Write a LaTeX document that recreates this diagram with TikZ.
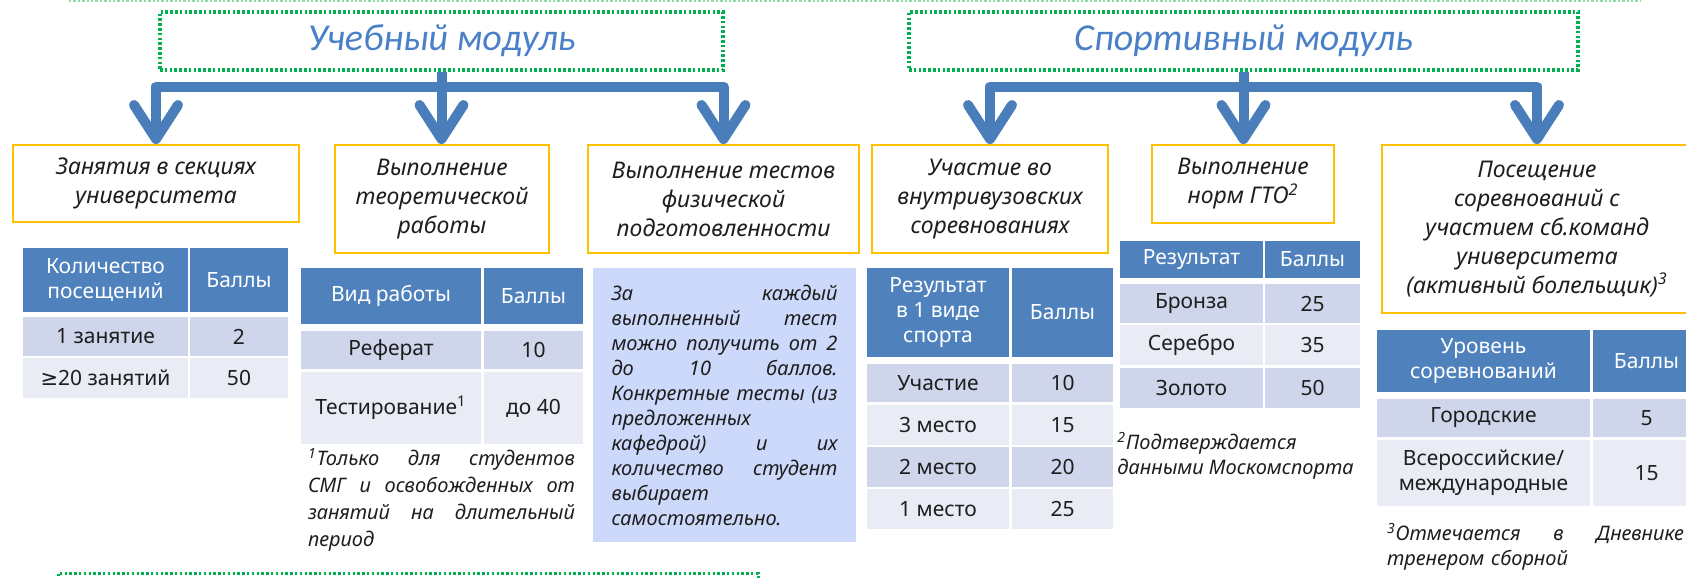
\documentclass[tikz,border=0pt]{standalone}
\usepackage{fontspec}
\setmainfont{Noto Sans}
\newfontfamily\headfont{Carlito}
\newfontfamily\symfont{DejaVu Sans}
\usetikzlibrary{arrows.meta}
\setlength\parindent{0pt}

\definecolor{headblue}{RGB}{79,129,189}
\definecolor{rowdark}{RGB}{207,213,234}
\definecolor{rowlight}{RGB}{233,235,245}
\definecolor{boxyellow}{RGB}{255,192,0}
\definecolor{arrowblue}{RGB}{74,126,187}
\definecolor{modblue}{RGB}{74,128,200}
\definecolor{dotgreen}{RGB}{0,176,80}
\definecolor{palegreen}{RGB}{146,220,170}
\definecolor{notefill}{RGB}{204,217,250}
\definecolor{ink}{RGB}{30,30,30}

\begin{document}
\begin{tikzpicture}[x=0.5pt, y=-0.5pt,
    modbox/.style={draw=dotgreen, line width=1.6pt, dash pattern=on 1.3pt off 1.1pt,
        minimum height=29pt, text=modblue, font=\headfont\itshape\fontsize{19}{23}\selectfont},
    itembox/.style={draw=boxyellow, line width=1pt, inner sep=0pt, align=center, text=ink,
        font=\itshape\fontsize{11.5}{14.5}\selectfont},
    flow/.style={draw=arrowblue, line width=5pt, line join=round,
        -{Straight Barb[length=17pt, width=22pt, round]}},
    cell/.style={inner sep=0pt, align=center, font=\fontsize{10.5}{12.5}\selectfont},
    head/.style={cell, fill=headblue, text=white},
    rowa/.style={cell, fill=rowdark, text=ink},
    rowb/.style={cell, fill=rowlight, text=ink},
    note/.style={inner sep=0pt, align=left, text=ink, font=\itshape\fontsize{10}{13.5}\selectfont}]
    \useasboundingbox (0,0) rectangle (1686,578);

    % dotted frames cut by the edges
    \draw[palegreen, line width=0.8pt, dash pattern=on 1.2pt off 1pt] (69,1) -- (1641,1);
    \draw[dotgreen, line width=1.5pt, dash pattern=on 1.2pt off 1.2pt] (58,600) -- (58,573) -- (758,573) -- (758,600);

    % modules
    \node[modbox, minimum width=281.5pt] (ucheb) at (441.5,41) {Учебный модуль};
    \node[modbox, minimum width=334.5pt] (sport) at (1243.5,41) {Спортивный модуль};

    % items
    \node[itembox, minimum width=143pt, minimum height=38.5pt] (zan) at (156,183.5) {Занятия в секциях\\университета};
    \node[itembox, minimum width=107pt, minimum height=54pt] (teor) at (442,199) {Выполнение\\теоретической\\работы};
    \node[itembox, minimum width=135.5pt, minimum height=54pt] (fiz) at (723.5,199) {Выполнение тестов\\физической\\подготовленности};
    \node[itembox, minimum width=118pt, minimum height=54pt] (vnut) at (990,199) {Участие во\\внутривузовских\\соревнованиях};
    \node[itembox, minimum width=91pt, minimum height=39pt] (gto) at (1243,184) {Выполнение\\норм ГТО\textsuperscript{2}};
    \node[itembox, minimum width=155pt, minimum height=84pt] (bolel) at (1537,229) {Посещение\\соревнований с\\участием сб.команд\\университета\\(активный болельщик)\textsuperscript{3}};

    % arrows
    \coordinate (ubar) at ([yshift=-7.5pt]ucheb.south);
    \coordinate (sbar) at ([yshift=-7.5pt]sport.south);
    \draw[flow] (ucheb.south) -- (ubar) -| (zan.north);
    \draw[flow] (ucheb.south) -- (ucheb.south |- teor.north);
    \draw[flow] (ucheb.south) -- (ubar) -| (fiz.north);
    \draw[flow] (sport.south) -- (sbar) -| (vnut.north);
    \draw[flow] (sport.south) -- (sport.south |- gto.north);
    \draw[flow] (sport.south) -- (sbar) -| (bolel.north);

    % sections
    \node[head, minimum width=82.5pt, minimum height=32pt] (sekh1) at (105.5,280) {Количество\\посещений};
    \node[head, minimum width=49pt, minimum height=32pt] (sekh2) at (239,280) {Баллы};
    \node[rowa, minimum width=82.5pt, minimum height=19.5pt] (seka1) at (105.5,336.5) {1 занятие};
    \node[rowa, minimum width=49pt, minimum height=19.5pt] (seka2) at (239,336.5) {2};
    \node[rowb, minimum width=82.5pt, minimum height=20pt] (sekb1) at (105.5,378) {{\symfont ≥}20 занятий};
    \node[rowb, minimum width=49pt, minimum height=20pt] (sekb2) at (239,378) {50};

    % theory
    \node[head, minimum width=90pt, minimum height=28pt] (teoh1) at (391,296) {Вид работы};
    \node[head, minimum width=49.5pt, minimum height=28pt] (teoh2) at (533.5,296) {Баллы};
    \node[rowa, minimum width=90pt, minimum height=19pt] (teoa1) at (391,350) {Реферат};
    \node[rowa, minimum width=49.5pt, minimum height=19pt] (teoa2) at (533.5,350) {10};
    \node[rowb, minimum width=90pt, minimum height=36pt] (teob1) at (391,408) {Тестирование\textsuperscript{1}};
    \node[rowb, minimum width=49.5pt, minimum height=36pt] (teob2) at (533.5,408) {до 40};
    \node[note, text width=133.5pt] (fn1) at (441.5,500) {\textsuperscript{1}Только\hfill для\hfill студентов\\
        СМГ\hfill и\hfill освобожденных\hfill от\\
        занятий\hfill на\hfill длительный\\
        период};

    % tests
    \node[note, fill=notefill, minimum width=131.5pt, minimum height=137pt, text width=113pt,
        font=\itshape\fontsize{10}{12.5}\selectfont] (tst) at (724.5,405) {За\hfill каждый\\
        выполненный\hfill тест\\
        можно\hfill получить\hfill от\hfill 2\\
        до\hfill 10\hfill баллов.\\
        Конкретные\hfill тесты\hfill (из\\
        предложенных\\
        кафедрой)\hfill и\hfill их\\
        количество\hfill студент\\
        выбирает\\
        самостоятельно.};

    % inner competitions
    \node[head, minimum width=71pt, minimum height=44.5pt] (vnuh1) at (938,312.5) {Результат\\в 1 виде\\спорта};
    \node[head, minimum width=50.5pt, minimum height=44.5pt] (vnuh2) at (1062.5,312.5) {Баллы};
    \node[rowa, minimum width=71pt, minimum height=19pt] (vnua1) at (938,383) {Участие};
    \node[rowa, minimum width=50.5pt, minimum height=19pt] (vnua2) at (1062.5,383) {10};
    \node[rowb, minimum width=71pt, minimum height=20pt] (vnub1) at (938,425) {3 место};
    \node[rowb, minimum width=50.5pt, minimum height=20pt] (vnub2) at (1062.5,425) {15};
    \node[rowa, minimum width=71pt, minimum height=20pt] (vnuc1) at (938,467) {2 место};
    \node[rowa, minimum width=50.5pt, minimum height=20pt] (vnuc2) at (1062.5,467) {20};
    \node[rowb, minimum width=71pt, minimum height=20pt] (vnud1) at (938,509) {1 место};
    \node[rowb, minimum width=50.5pt, minimum height=20pt] (vnud2) at (1062.5,509) {25};

    % GTO
    \node[head, minimum width=71.5pt, minimum height=18.5pt] (nrmh1) at (1191.5,259.5) {Результат};
    \node[head, minimum width=47.5pt, minimum height=18.5pt] (nrmh2) at (1312.5,259.5) {Баллы};
    \node[rowa, minimum width=71.5pt, minimum height=19.5pt] (nrma1) at (1191.5,303.5) {Бронза};
    \node[rowa, minimum width=47.5pt, minimum height=19.5pt] (nrma2) at (1312.5,303.5) {25};
    \node[rowb, minimum width=71.5pt, minimum height=20pt] (nrmb1) at (1191.5,345) {Серебро};
    \node[rowb, minimum width=47.5pt, minimum height=20pt] (nrmb2) at (1312.5,345) {35};
    \node[rowa, minimum width=71.5pt, minimum height=20pt] (nrmc1) at (1191.5,388) {Золото};
    \node[rowa, minimum width=47.5pt, minimum height=20pt] (nrmc2) at (1312.5,388) {50};
    \node[note, anchor=west, font=\itshape\fontsize{10}{12.5}\selectfont] (fn2) at (1117,455.5) {\textsuperscript{2}Подтверждается\\данными Москомспорта};

    % fans
    \node[head, minimum width=106.5pt, minimum height=31pt] (bolh1) at (1483.5,361) {Уровень\\соревнований};
    \node[head, minimum width=53.5pt, minimum height=31pt] (bolh2) at (1646.5,361) {Баллы};
    \node[rowa, minimum width=106.5pt, minimum height=19pt] (bola1) at (1483.5,418) {Городские};
    \node[rowa, minimum width=53.5pt, minimum height=19pt] (bola2) at (1646.5,418) {5};
    \node[rowb, minimum width=106.5pt, minimum height=33pt] (bolb1) at (1483.5,473) {Всероссийские/\\международные};
    \node[rowb, minimum width=53.5pt, minimum height=33pt] (bolb2) at (1646.5,473) {15};
    \node[note, text width=148.5pt, font=\itshape\fontsize{10}{12.5}\selectfont] (fn3) at (1535.5,547) {\textsuperscript{3}Отмечается\hfill в\hfill Дневнике\\
        тренером сборной};
\end{tikzpicture}
\end{document}
